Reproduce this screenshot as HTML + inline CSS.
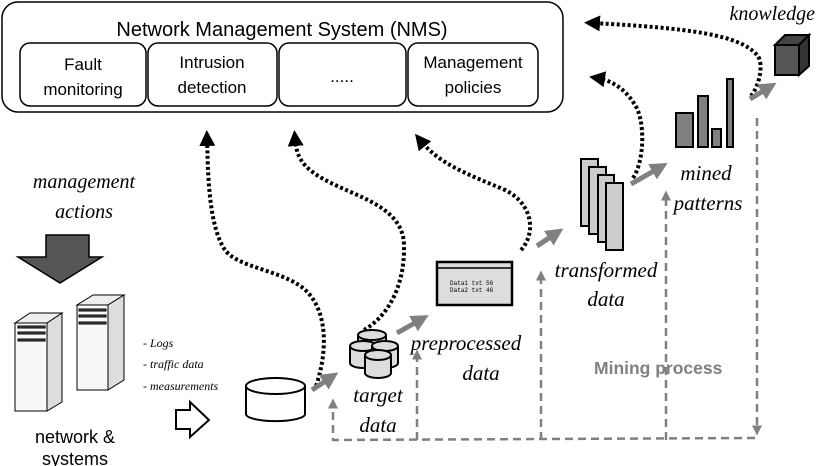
<!DOCTYPE html>
<html><head><meta charset="utf-8"><style>
html,body{margin:0;padding:0;background:#fff;}
svg{display:block;}
.s{font-family:"Liberation Sans",sans-serif;}
.i{font-family:"Liberation Serif",serif;font-style:italic;}
</style></head><body>
<svg width="820" height="466" viewBox="0 0 820 466" xmlns="http://www.w3.org/2000/svg">
<defs>
<marker id="bk" markerWidth="4" markerHeight="4" refX="2" refY="2" orient="auto" markerUnits="strokeWidth"><path d="M0,0 L4,2 L0,4 z" fill="#000"/></marker>
<marker id="gr" markerWidth="3.5" markerHeight="3.5" refX="1.5" refY="1.75" orient="auto" markerUnits="strokeWidth"><path d="M0,0 L3.5,1.75 L0,3.5 z" fill="#808080"/></marker>
<marker id="gd" markerWidth="4" markerHeight="4" refX="1" refY="2" orient="auto" markerUnits="strokeWidth"><path d="M0,0 L4,2 L0,4 z" fill="#808080"/></marker>
</defs>
<rect x="2" y="2" width="561" height="110" rx="16" fill="#fff" stroke="#000" stroke-width="1.5"/>
<text x="282" y="36" class="s" font-size="20" text-anchor="middle">Network Management System (NMS)</text>
<g fill="#fff" stroke="#000" stroke-width="1.5">
<rect x="20" y="43" width="126" height="63" rx="10"/>
<rect x="148" y="43" width="129" height="63" rx="10"/>
<rect x="279" y="43" width="127" height="63" rx="10"/>
<rect x="408" y="43" width="130" height="63" rx="10"/>
</g>
<g class="s" font-size="17" text-anchor="middle">
<text x="83" y="70">Fault</text><text x="83" y="95">monitoring</text>
<text x="212" y="68">Intrusion</text><text x="212" y="93">detection</text>
<text x="342" y="82">.....</text>
<text x="473" y="68">Management</text><text x="473" y="93">policies</text>
</g>
<g fill="none" stroke="#000" stroke-width="4" stroke-dasharray="3,2.5">
<path d="M316,386 C325,360 330,320 310,295 C290,270 240,270 225,250 C208,225 208,170 207,138" marker-end="url(#bk)"/>
<path d="M364,330 C385,318 405,290 404,245 C403,200 340,195 310,170 C298,160 296,150 295,138" marker-end="url(#bk)"/>
<path d="M521,250 C535,235 535,205 505,190 C470,175 440,165 420,140" marker-end="url(#bk)"/>
<path d="M633,178 C645,160 645,120 635,105 C625,88 610,80 597,78" marker-end="url(#bk)"/>
<path d="M751,96 C760,85 764,62 757,55 C740,35 690,28 592,23" marker-end="url(#bk)"/>
</g>
<g stroke="#808080" stroke-width="5" fill="none">
<line x1="312" y1="390" x2="330" y2="378" marker-end="url(#gr)"/>
<line x1="397" y1="333" x2="420" y2="320" marker-end="url(#gr)"/>
<line x1="537" y1="246" x2="555" y2="234" marker-end="url(#gr)"/>
<line x1="631" y1="184" x2="659" y2="168" marker-end="url(#gr)"/>
<line x1="750" y1="99" x2="768" y2="88" marker-end="url(#gr)"/>
</g>
<g stroke="#808080" stroke-width="2.5" fill="none" stroke-dasharray="8,5">
<path d="M757,118 L757,428" marker-end="url(#gd)"/>
<path d="M755,438 L333,440 L333,406" marker-end="url(#gd)"/>
<path d="M417,440 L417,357" marker-end="url(#gd)"/>
<path d="M541,440 L541,278" marker-end="url(#gd)"/>
<path d="M666,440 L666,198" marker-end="url(#gd)"/>
</g>
<text x="594" y="374" class="s" font-size="17.5" font-weight="bold" fill="#808080">Mining process</text>
<g stroke="#000" stroke-width="1">
<polygon points="15,323 47,323 62,313 30,313" fill="#eee"/>
<polygon points="47,323 62,313 62,402 47,411" fill="#ddd"/>
<rect x="15" y="323" width="32" height="88" fill="#f8f8f8"/>
<rect x="18" y="326" width="27" height="2" fill="#555"/><rect x="18" y="332" width="27" height="2" fill="#555"/><rect x="18" y="339" width="27" height="2" fill="#555"/>
<polygon points="77,305 108,305 124,295 93,295" fill="#eee"/>
<polygon points="108,305 124,295 124,380 108,390" fill="#ddd"/>
<rect x="77" y="305" width="31" height="85" fill="#f8f8f8"/>
<rect x="79" y="309" width="27" height="2" fill="#555"/><rect x="79" y="315" width="27" height="2" fill="#555"/><rect x="79" y="322" width="27" height="2" fill="#555"/>
</g>
<polygon points="46,235 89,235 89,257 102,257 60,283 18,257 46,257" fill="#555" stroke="#000" stroke-width="1.5"/>
<g class="i" font-size="20" text-anchor="middle"><text x="84" y="188">management</text><text x="84" y="218">actions</text></g>
<g class="s" font-size="18" text-anchor="middle"><text x="75" y="443">network &amp;</text><text x="75" y="465">systems</text></g>
<g class="i" font-size="12"><text x="143" y="347">- Logs</text><text x="143" y="368">- traffic data</text><text x="143" y="390">- measurements</text></g>
<polygon points="176,410 190,410 190,402 209,420 190,437 190,429 176,429" fill="#fff" stroke="#000" stroke-width="2"/>
<path d="M246,386 L246,414 A29,7 0 0 0 305,414 L305,386" fill="#fff" stroke="#000" stroke-width="2"/>
<ellipse cx="275.5" cy="386" rx="29.5" ry="8" fill="#fff" stroke="#000" stroke-width="2"/>
<g fill="#ddd" stroke="#000" stroke-width="2">
<path d="M358,335 v16 a14,5 0 0 0 28,0 v-16"/><ellipse cx="372" cy="335" rx="14" ry="5"/>
<path d="M350,346 v17 a13,5 0 0 0 26,0 v-17"/><ellipse cx="363" cy="346" rx="13" ry="5"/>
<path d="M372,346 v17 a13,5 0 0 0 26,0 v-17"/><ellipse cx="385" cy="346" rx="13" ry="5"/>
<path d="M365,355 v18 a13,5 0 0 0 26,0 v-18"/><ellipse cx="378" cy="355" rx="13" ry="5"/>
</g>
<g class="i" font-size="21" text-anchor="middle"><text x="378" y="402">target</text><text x="378" y="432">data</text></g>
<rect x="437" y="262" width="75" height="43" fill="#ddd" stroke="#000" stroke-width="2.5"/>
<line x1="437" y1="268" x2="512" y2="268" stroke="#000" stroke-width="1.5"/>
<g font-family="Liberation Mono,monospace" font-size="6"><text x="450" y="285">Data1   txt   56</text><text x="450" y="292">Data2   txt   46</text></g>
<g class="i" font-size="21" text-anchor="middle"><text x="466" y="350">preprocessed</text><text x="481" y="380">data</text></g>
<g fill="#ccc" stroke="#000" stroke-width="2">
<rect x="581" y="159" width="17" height="67"/><rect x="589" y="167" width="17" height="67"/>
<rect x="598" y="175" width="16" height="67"/><rect x="606" y="183" width="17" height="67"/>
</g>
<g class="i" font-size="21" text-anchor="middle"><text x="606" y="277">transformed</text><text x="606" y="306">data</text></g>
<g fill="#808080" stroke="#000" stroke-width="2">
<rect x="676" y="113" width="17" height="34"/><rect x="698" y="96" width="10" height="51"/>
<rect x="712" y="129" width="9" height="18"/><rect x="727" y="79" width="6" height="68"/>
</g>
<g class="i" font-size="21" text-anchor="middle"><text x="706" y="180">mined</text><text x="708" y="210">patterns</text></g>
<g stroke="#000" stroke-width="2">
<rect x="775" y="45" width="24" height="30" fill="#555"/>
<polygon points="775,45 785,35 809,35 799,45" fill="#444"/>
<polygon points="799,45 809,35 809,66 799,75" fill="#333"/>
</g>
<text x="815" y="20" class="i" font-size="20" text-anchor="end">knowledge</text>
</svg>
</body></html>
